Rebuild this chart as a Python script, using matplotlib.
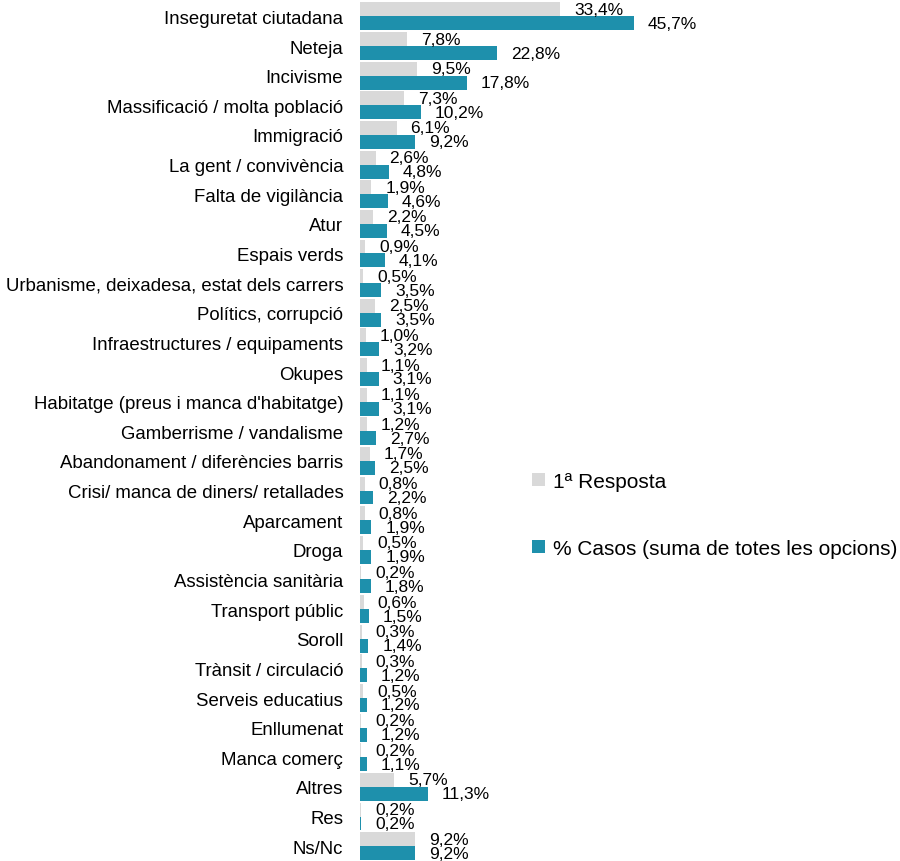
import matplotlib
matplotlib.use("Agg")
import matplotlib.pyplot as plt
import numpy as np

plt.rcParams['font.family'] = ['Liberation Sans', 'DejaVu Sans']

categories = [
    "Inseguretat ciutadana", "Neteja", "Incivisme", "Massificació / molta població",
    "Immigració", "La gent / convivència", "Falta de vigilància", "Atur",
    "Espais verds", "Urbanisme, deixadesa, estat dels carrers", "Polítics, corrupció",
    "Infraestructures / equipaments", "Okupes", "Habitatge (preus i manca d'habitatge)",
    "Gamberrisme / vandalisme", "Abandonament / diferències barris",
    "Crisi/ manca de diners/ retallades", "Aparcament", "Droga",
    "Assistència sanitària", "Transport públic", "Soroll", "Trànsit / circulació",
    "Serveis educatius", "Enllumenat", "Manca comerç", "Altres", "Res", "Ns/Nc",
]
primera = [33.4, 7.8, 9.5, 7.3, 6.1, 2.6, 1.9, 2.2, 0.9, 0.5, 2.5, 1.0, 1.1, 1.1,
           1.2, 1.7, 0.8, 0.8, 0.5, 0.2, 0.6, 0.3, 0.3, 0.5, 0.2, 0.2, 5.7, 0.2, 9.2]
casos = [45.7, 22.8, 17.8, 10.2, 9.2, 4.8, 4.6, 4.5, 4.1, 3.5, 3.5, 3.2, 3.1, 3.1,
         2.7, 2.5, 2.2, 1.9, 1.9, 1.8, 1.5, 1.4, 1.2, 1.2, 1.2, 1.1, 11.3, 0.2, 9.2]
series_names = ["1ª Resposta", "% Casos (suma de totes les opcions)"]

gray = "#D9D9D9"
teal = "#1E90AC"

fig = plt.figure(figsize=(9, 8.62), dpi=100)
ax = fig.add_axes([0.4, 0.0, 0.3333, 0.997])

y = np.arange(len(categories))
h = 0.47
b1 = ax.barh(y - h / 2, primera, height=h, color=gray, label=series_names[0])
b2 = ax.barh(y + h / 2, casos, height=h, color=teal, label=series_names[1])

def fmt(v):
    return f"{v:.1f}%".replace(".", ",")

# etiquetes de dades al final de cada barra
for yi, v in zip(y, primera):
    ax.annotate(fmt(v), (v, yi - h / 2), xytext=(10, 0), textcoords="offset points",
                ha="left", va="center", fontsize=12.5, annotation_clip=False)
for yi, v in zip(y, casos):
    ax.annotate(fmt(v), (v, yi + h / 2), xytext=(10, 0), textcoords="offset points",
                ha="left", va="center", fontsize=12.5, annotation_clip=False)

ax.set_xlim(0, 50)
ax.set_ylim(len(categories) - 0.5, -0.5)
ax.set_yticks(y)
ax.set_yticklabels(categories, fontsize=13.4)
ax.tick_params(axis="y", length=0, pad=12)
ax.set_xticks([])
for s in ax.spines.values():
    s.set_visible(False)

fig.legend(handles=[b1, b2], loc="center left", bbox_to_anchor=(532 / 900, 1 - 516 / 862),
           frameon=False, fontsize=15, handlelength=0.6, handleheight=0.6,
           handletextpad=0.4, labelspacing=2.3, borderpad=0, borderaxespad=0)

fig.savefig("out.png", dpi=100)
